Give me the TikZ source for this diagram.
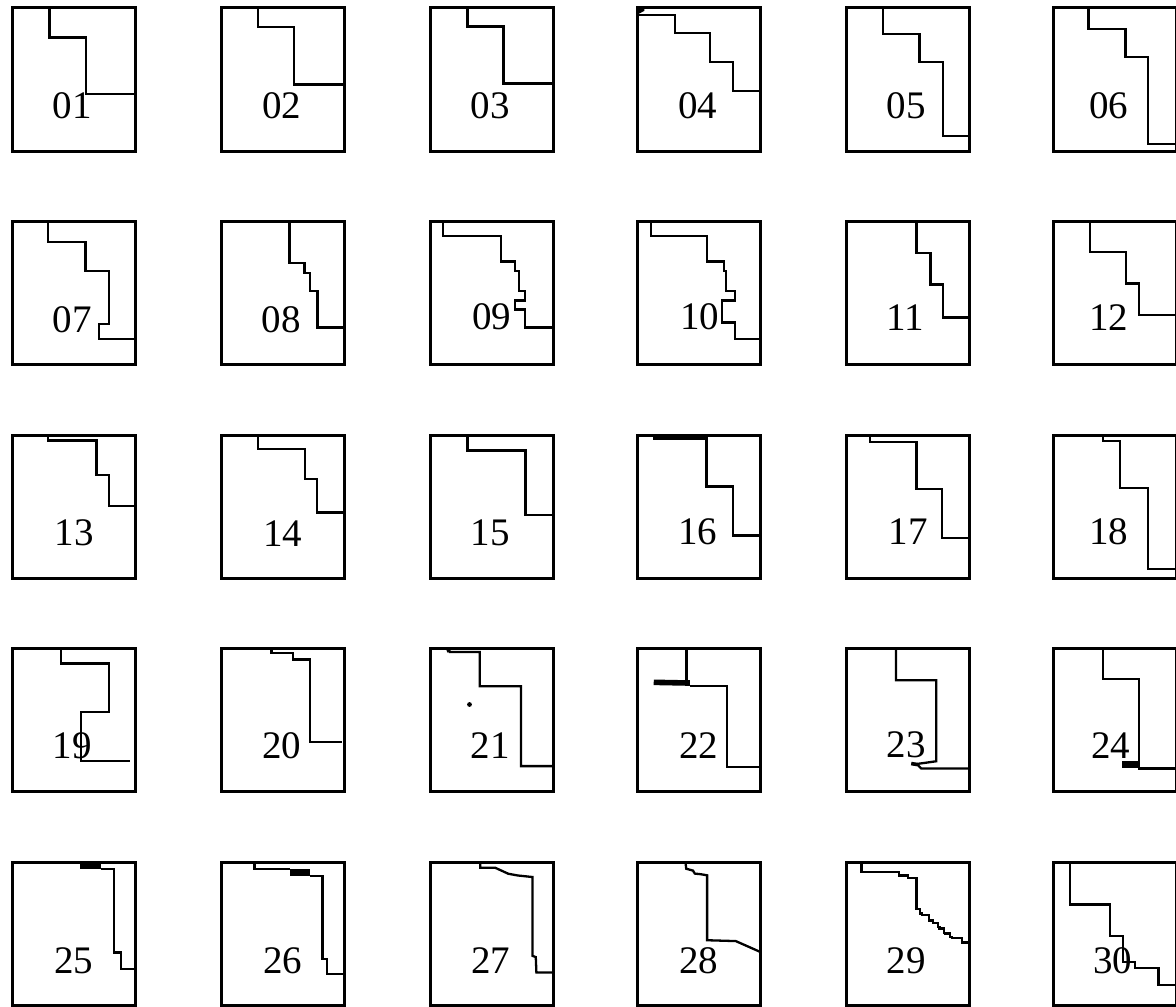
\documentclass[tikz,border=0pt]{standalone}
\usepackage{fontspec}
\setmainfont{Liberation Serif}
\usepackage{tikz}

\begin{document}
\begin{tikzpicture}[
    x=0.5pt, y=-0.5pt,
    cell/.style 2 args={shift={(#1,#2)}, x=61.5pt, y=-71.5pt},
    frame/.style={draw, line width=1.5pt},
    trace/.style={line width=1.15pt, line join=miter},
    blob/.style={line width=2.8pt},
    num/.style={font=\fontsize{19.5}{21}\selectfont, inner sep=0pt}
]
\useasboundingbox (0,0) rectangle (1176,1006);
\clip (0,0) rectangle (1176,1006);
% ===== FRAMES AND NUMBERS =====
\foreach \n/\xx/\yy/\lx/\ly in {
    01/12/8/0.49/0.68,     02/221/8/0.495/0.68,    03/430/8/0.488/0.68,
    04/637/8/0.495/0.685,  05/846/8/0.49/0.685,    06/1053/8/0.455/0.685,
    07/12/221/0.49/0.687,  08/221/221/0.489/0.687, 09/430/221/0.5/0.67,
    10/637/221/0.51/0.67,  11/846/221/0.485/0.674, 12/1053/221/0.455/0.674,
    13/12/435/0.506/0.687, 14/221/435/0.5/0.687,   15/430/435/0.488/0.687,
    16/637/435/0.495/0.674,17/846/435/0.506/0.674, 18/1053/435/0.455/0.674,
    19/12/648/0.49/0.684,  20/221/648/0.492/0.684, 21/430/648/0.49/0.684,
    22/637/648/0.5/0.68,   23/846/648/0.49/0.68,   24/1053/648/0.47/0.68,
    25/12/862/0.5/0.69,    26/221/862/0.5/0.69,    27/430/862/0.494/0.69,
    28/637/862/0.5/0.69,   29/846/862/0.49/0.69,   30/1053/862/0.485/0.69} {
  \begin{scope}[cell={\xx}{\yy}]
    \draw[frame] (0,0) rectangle (1,1);
    \node[num] (n\n) at (\lx,\ly) {\n};
  \end{scope}
}
% ===== ROW 1 =====
\begin{scope}[cell={12}{8}]
  \draw[trace] (0.305,0) |- (0.604,0.207) |- (1,0.6);
\end{scope}
\begin{scope}[cell={221}{8}]
  \draw[trace] (0.298,0) |- (0.593,0.134) |- (1,0.536);
\end{scope}
\begin{scope}[cell={430}{8}]
  \draw[trace] (0.305,0) |- (0.598,0.129) |- (1,0.529);
\end{scope}
\begin{scope}[cell={637}{8}]
  \fill (0,0) -- (0.06,0) -- (0.06,0.02) -- (0,0.047) -- cycle;
  \draw[trace] (0,0.047) -| (0.306,0.176) -| (0.596,0.379) -| (0.78,0.578) -- (1,0.578);
\end{scope}
\begin{scope}[cell={846}{8}]
  \draw[trace] (0.303,0) |- (0.597,0.18) |- (0.788,0.379) |- (1,0.895);
\end{scope}
\begin{scope}[cell={1053}{8}]
  \draw[trace] (0.288,0) |- (0.59,0.148) |- (0.773,0.344) |- (1,0.953);
\end{scope}
% ===== ROW 2 =====
\begin{scope}[cell={12}{221}]
  \draw[trace] (0.294,0) |- (0.597,0.148) |- (0.788,0.352) |- (0.709,0.722) |- (1,0.826);
\end{scope}
\begin{scope}[cell={221}{221}]
  \draw[trace] (0.556,0) |- (0.678,0.294) |- (0.723,0.363) |- (0.784,0.491) |- (1,0.745);
\end{scope}
\begin{scope}[cell={430}{221}]
  \draw[trace] (0.107,0) |- (0.58,0.104) |- (0.693,0.283) |- (0.721,0.352) |- (0.775,0.491)
    |- (0.689,0.556) |- (0.775,0.618) |- (1,0.745);
\end{scope}
\begin{scope}[cell={637}{221}]
  \draw[trace] (0.113,0) |- (0.569,0.104) |- (0.705,0.283) |- (0.726,0.352) |- (0.794,0.491)
    |- (0.691,0.556) |- (0.794,0.71) |- (1,0.826);
\end{scope}
\begin{scope}[cell={846}{221}]
  \draw[trace] (0.573,0) |- (0.688,0.225) |- (0.788,0.444) |- (1,0.674);
\end{scope}
\begin{scope}[cell={1053}{221}]
  \draw[trace] (0.303,0) |- (0.591,0.218) |- (0.697,0.437) |- (1,0.655);
\end{scope}
% ===== ROW 3 =====
\begin{scope}[cell={12}{435}]
  \draw[trace] (0.294,0) |- (0.688,0.039) |- (0.788,0.278) |- (1,0.498);
\end{scope}
\begin{scope}[cell={221}{435}]
  \draw[trace] (0.298,0) |- (0.684,0.097) |- (0.778,0.31) |- (1,0.542);
\end{scope}
\begin{scope}[cell={430}{435}]
  \draw[trace] (0.305,0) |- (0.777,0.109) |- (1,0.56);
\end{scope}
\begin{scope}[cell={637}{435}]
  \draw[blob] (0.128,0.015) -- (0.566,0.015);
  \draw[trace] (0.566,0) |- (0.78,0.36) |- (1,0.702);
\end{scope}
\begin{scope}[cell={846}{435}]
  \draw[trace] (0.194,0) |- (0.573,0.047) |- (0.779,0.377) |- (1,0.721);
\end{scope}
\begin{scope}[cell={1053}{435}]
  \draw[trace] (0.409,0) |- (0.545,0.04) |- (0.773,0.372) |- (1,0.935);
\end{scope}
% ===== ROW 4 =====
\begin{scope}[cell={12}{648}]
  \draw[trace] (0.4,0) |- (0.788,0.109) |- (0.56,0.447) |- (0.96,0.788);
\end{scope}
\begin{scope}[cell={221}{648}]
  \draw[trace] (0.41,0) |- (0.584,0.033) |- (0.726,0.081) |- (0.98,0.656);
\end{scope}
\begin{scope}[cell={430}{648}]
  \draw[blob, line width=1.8pt] (0.144,0) -- (0.155,0.028);
  \draw[trace] (0.144,0) -- (0.16,0.028) -| (0.404,0.267) -| (0.74,0.826) -- (1,0.826);
  \fill (0.321,0.395) circle[radius=1.2pt];
\end{scope}
\begin{scope}[cell={637}{648}]
  \draw[trace] (0.403,0) -- (0.403,0.238);
  \draw[blob] (0.136,0.24) -- (0.43,0.245);
  \draw[trace] (0.43,0.266) -| (0.733,0.831) -- (1,0.831);
\end{scope}
\begin{scope}[cell={846}{648}]
  \draw[trace] (0.406,0) |- (0.733,0.226) -- (0.733,0.792) -- (0.576,0.811) -- (0.612,0.843) -- (1,0.843);
  \draw[blob, line width=1.8pt] (0.53,0.808) -- (0.58,0.815);
\end{scope}
\begin{scope}[cell={1053}{648}]
  \draw[trace] (0.409,0) |- (0.697,0.219) -- (0.697,0.843) -- (1,0.843);
  \fill (0.56,0.792) rectangle (0.706,0.838);
\end{scope}
% ===== ROW 5 =====
\begin{scope}[cell={12}{862}]
  \fill (0.555,0) rectangle (0.727,0.05);
  \draw[trace] (0.727,0.05) -| (0.827,0.632) -| (0.888,0.749) -- (1,0.749);
\end{scope}
\begin{scope}[cell={221}{862}]
  \draw[trace] (0.273,0) |- (0.561,0.047);
  \fill (0.561,0.047) rectangle (0.727,0.1);
  \draw[trace] (0.727,0.1) -| (0.824,0.679) -| (0.864,0.785) -- (1,0.785);
\end{scope}
\begin{scope}[cell={430}{862}]
  \draw[trace] (0.409,0) -- (0.409,0.04) -- (0.53,0.04) -- (0.636,0.082) -- (0.712,0.094)
    -- (0.833,0.105) -- (0.833,0.656) -- (0.86,0.665) -- (0.865,0.773) -- (1,0.773);
\end{scope}
\begin{scope}[cell={637}{862}]
  \draw[trace] (0.394,0) -- (0.4,0.047) -- (0.455,0.06) -- (0.47,0.081) -- (0.515,0.085)
    -- (0.57,0.093) -- (0.57,0.547) -- (0.803,0.553) -- (1,0.628);
\end{scope}
\begin{scope}[cell={846}{862}]
  \draw[trace] (0.127,0) |- (0.43,0.072) |- (0.506,0.095) |- (0.573,0.114) |- (0.6,0.33)
    |- (0.62,0.36) |- (0.673,0.372) |- (0.709,0.41) |- (0.748,0.425) |- (0.76,0.455)
    |- (0.794,0.465) |- (0.81,0.495) |- (0.848,0.5) |- (0.861,0.523) |- (0.945,0.53) |- (1,0.563);
\end{scope}
\begin{scope}[cell={1053}{862}]
  \draw[trace] (0.136,0) |- (0.464,0.298) |- (0.567,0.516) |- (0.667,0.698) |- (0.858,0.74) |- (1,0.86);
\end{scope}
\end{tikzpicture}
\end{document}
